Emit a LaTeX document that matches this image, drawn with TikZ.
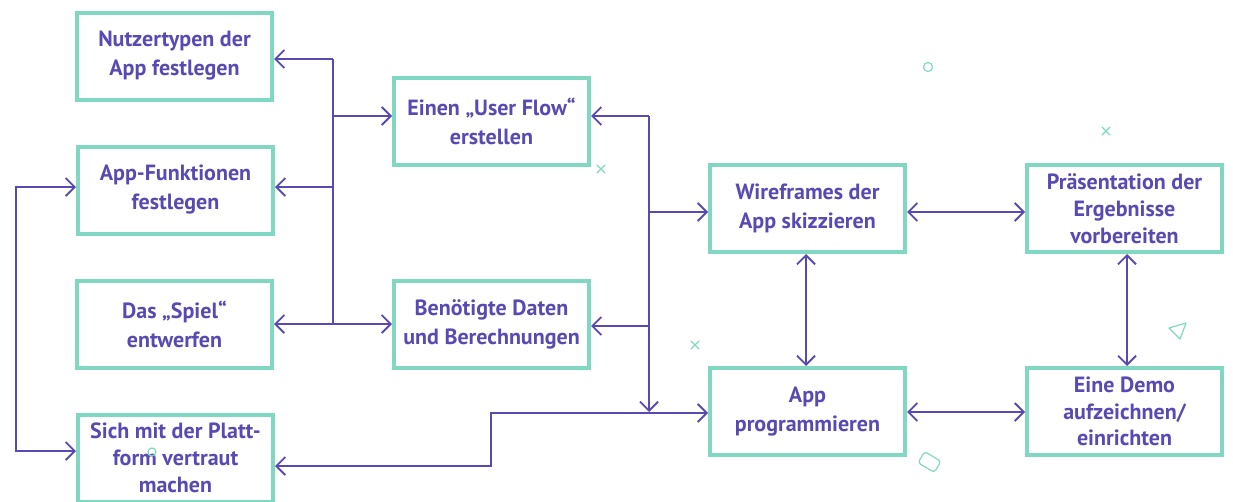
\documentclass[tikz,border=0pt]{standalone}
\usepackage{fontspec}
\setmainfont{PT Sans}
\usetikzlibrary{arrows.meta}
\definecolor{tealc}{RGB}{128,216,195}
\definecolor{purp}{RGB}{88,74,178}
\begin{document}
\begin{tikzpicture}[x=1pt,y=-1pt,
  box/.style={draw=tealc, line width=4pt, minimum width=195pt, minimum height=87pt,
    inner sep=0pt, align=center, text=purp, font=\fontsize{22}{29}\selectfont\bfseries},
  box3/.style={box, font=\fontsize{22}{26.8}\selectfont\bfseries},
  conn/.style={draw=purp, line width=1.8pt},
  arr/.style={conn, -{Straight Barb[length=9pt,width=18pt]}},
  arrs/.style={conn, {Straight Barb[length=9pt,width=18pt]}-{Straight Barb[length=9pt,width=18pt]}},
  deco/.style={draw=tealc, line width=1.2pt, line cap=round, line join=round}]
\useasboundingbox (0,0) rectangle (1233,501);

% boxes
\node[box] (B1) at (174.5,56) {Nutzertypen der\\App festlegen};
\node[box] (B2) at (175.5,190) {App-Funktionen\\festlegen};
\node[box] (B3) at (174.5,324) {Das „Spiel“\\entwerfen};
\node[box3] (B4) at (175.5,458) {Sich mit der Platt-\\form vertraut\\machen};
\node[box] (C1) at (491.5,121.5) {Einen „User Flow“\\erstellen};
\node[box] (C2) at (491.5,324.5) {Benötigte Daten\\und Berechnungen};
\node[box] (D1) at (807.5,208.5) {Wireframes der\\App skizzieren};
\node[box] (D2) at (807.5,411.5) {App\\programmieren};
\node[box3] (E1) at (1124.5,208.5) {Präsentation der\\Ergebnisse\\vorbereiten};
\node[box3] (E2) at (1124.5,411.5) {Eine Demo\\aufzeichnen/\\einrichten};

% junctions
\coordinate (j1) at (333,59);
\coordinate (j2) at (333,116);
\coordinate (j3) at (333,187);
\coordinate (j4) at (333,324);
\coordinate (l1) at (16,187);
\coordinate (l2) at (16,451);
\coordinate (k1) at (649,116);
\coordinate (k2) at (649,212);
\coordinate (k3) at (649,326);
\coordinate (k4) at (649,412);
\coordinate (m1) at (491,466);
\coordinate (m2) at (491,413);
\coordinate (h1) at (0,212);
\coordinate (h2) at (0,412);

% left trunk
\draw[conn] (j1) -- (j4);
\draw[arr] (j1) -- (B1.east |- j1);
\draw[arr] (j2) -- (C1.west |- j2);
\draw[arr] (j3) -- (B2.east |- j3);
\draw[arrs] (B3.east |- j4) -- (C2.west |- j4);

% left loop
\draw[arrs] (B2.west |- l1) -- (l1) -- (l2) -- (B4.west |- l2);

% middle trunk
\draw[arr] (k1) -- (C1.east |- k1);
\draw[arr] (k1) -- (k4);
\draw[arr] (k2) -- (D1.west |- k2);
\draw[arr] (k3) -- (C2.east |- k3);
\draw[arrs] (B4.east |- m1) -- (m1) -- (m2) -- (D2.west |- m2);

% right part
\draw[arrs] (D1.east |- h1) -- (E1.west |- h1);
\draw[arrs] (D2.east |- h2) -- (E2.west |- h2);
\draw[arrs] ([xshift=-1.5pt]D1.south) -- ([xshift=-1.5pt]D2.north);
\draw[arrs] ([xshift=2.5pt]E1.south) -- ([xshift=2.5pt]E2.north);

% decorations
\draw[deco] (928,67) circle (4.5pt);
\draw[deco] (152,452) circle (4pt);
\draw[deco] (1102,127) -- (1110,135) (1102,135) -- (1110,127);
\draw[deco] (597,165) -- (605,173) (597,173) -- (605,165);
\draw[deco] (691,341) -- (699,349) (691,349) -- (699,341);
\draw[deco] (1169,328) -- (1186,323) -- (1180,339) -- cycle;
\node[draw=tealc, line width=1.2pt, minimum width=19pt, minimum height=13pt,
  inner sep=0pt, rounded corners=3pt, rotate=-31] (dq) at (929.5,462) {};
\end{tikzpicture}
\end{document}
